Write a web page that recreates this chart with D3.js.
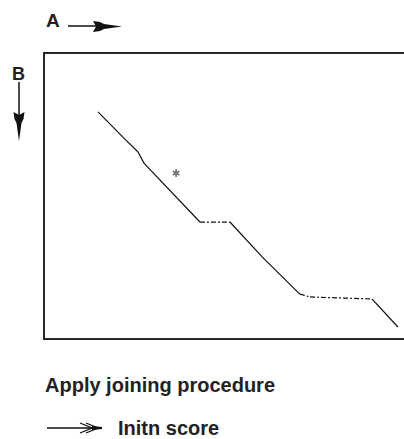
<html lang="en"><head>
<meta charset="utf-8">
<script src="https://d3js.org/d3.v7.min.js"></script>
<title>Joining procedure</title>
<style>
  body { margin: 0; background: #fff; }
  text { font-family: "Liberation Sans", Arial, sans-serif; font-weight: bold; fill: #222; }
</style>
</head>
<body>
<div id="chart"></div>
<script>

// path vertices (A across, B down), in plot units 0..100
const posA = [14.75, 22.1, 25.7, 27.3, 42.6, 50.8, 59.6, 60.7, 69.9, 72.7, 89.6, 96.7];
const posB = [20.6, 30.1, 34.6, 38.5, 59.1, 59.1, 71.3, 72.7, 84.3, 85.3, 86.0, 95.8];
// style of each segment between consecutive vertices
const segStyle = ["solid", "solid", "solid", "solid", "dashed", "solid", "solid", "solid", "dashed", "dashed", "solid"];
// the lone asterisk point
const starA = [36.1];
const starB = [42.0];

const axisA = "A", axisB = "B";
const caption = "Apply joining procedure";
const legendLabel = "Initn score";

const width = 404, height = 439;

const svg = d3.select("#chart")
  .append("svg")
  .attr("width", width)
  .attr("height", height);

const x = d3.scaleLinear().domain([0, 100]).range([44, 410]);
const y = d3.scaleLinear().domain([0, 100]).range([53, 339]);

// frame (right side runs off the page)
svg.append("rect")
  .attr("x", x(0)).attr("y", y(0))
  .attr("width", x(100) - x(0) + 10)
  .attr("height", y(100) - y(0))
  .attr("fill", "none")
  .attr("stroke", "#111")
  .attr("stroke-width", 1.8);

// A label + arrow
svg.append("text").attr("x", 46).attr("y", 27).attr("font-size", 19).text(axisA);
svg.append("line").attr("x1", 68).attr("y1", 26).attr("x2", 96).attr("y2", 26)
  .attr("stroke", "#111").attr("stroke-width", 1.5);
svg.append("polygon")
  .attr("points", "93,21 100,22 104,24 122,26.5 104,29 100,31 93,32 96,26.5")
  .attr("fill", "#111");

// B label + arrow
svg.append("text").attr("x", 12).attr("y", 80).attr("font-size", 18).text(axisB);
svg.append("line").attr("x1", 19).attr("y1", 82).attr("x2", 19).attr("y2", 116)
  .attr("stroke", "#111").attr("stroke-width", 1.5);
svg.append("polygon")
  .attr("points", "13.5,112 14.5,119 16.5,123 19,141 21.5,123 23.5,119 24.5,112 19,115")
  .attr("fill", "#111");

// trace segments
const segs = segStyle.map((s, i) => ({
  x1: posA[i], y1: posB[i], x2: posA[i + 1], y2: posB[i + 1], style: s
}));

svg.append("g").selectAll("line")
  .data(segs)
  .join("line")
    .attr("x1", d => x(d.x1))
    .attr("y1", d => y(d.y1))
    .attr("x2", d => x(d.x2))
    .attr("y2", d => y(d.y2))
    .attr("stroke", "#111")
    .attr("stroke-width", 1.2)
    .attr("stroke-dasharray", d => d.style === "dashed" ? "5,2,2,2" : null);

// asterisk
svg.append("g").selectAll("path")
  .data(starA.map((a, i) => [a, starB[i]]))
  .join("path")
    .attr("transform", d => `translate(${x(d[0])},${y(d[1])})`)
    .attr("d", d3.symbol(d3.symbolAsterisk).size(40))
    .attr("stroke", "#777")
    .attr("stroke-width", 1.8)
    .attr("fill", "none");

// caption
svg.append("text").attr("x", 45).attr("y", 392).attr("font-size", 20).text(caption);

// legend arrow + label
svg.append("line").attr("x1", 47).attr("y1", 428).attr("x2", 94).attr("y2", 428)
  .attr("stroke", "#111").attr("stroke-width", 1.3);
svg.append("path")
  .attr("d", "M80,423 L92,428 L80,433 M86,423 L98,428 L86,433")
  .attr("stroke", "#111").attr("stroke-width", 1.3).attr("fill", "none");
svg.append("polygon")
  .attr("points", "92,426 102,427 102,429 92,430")
  .attr("fill", "#111");
svg.append("text").attr("x", 118).attr("y", 435).attr("font-size", 20).text(legendLabel);

</script>
</body>
</html>
